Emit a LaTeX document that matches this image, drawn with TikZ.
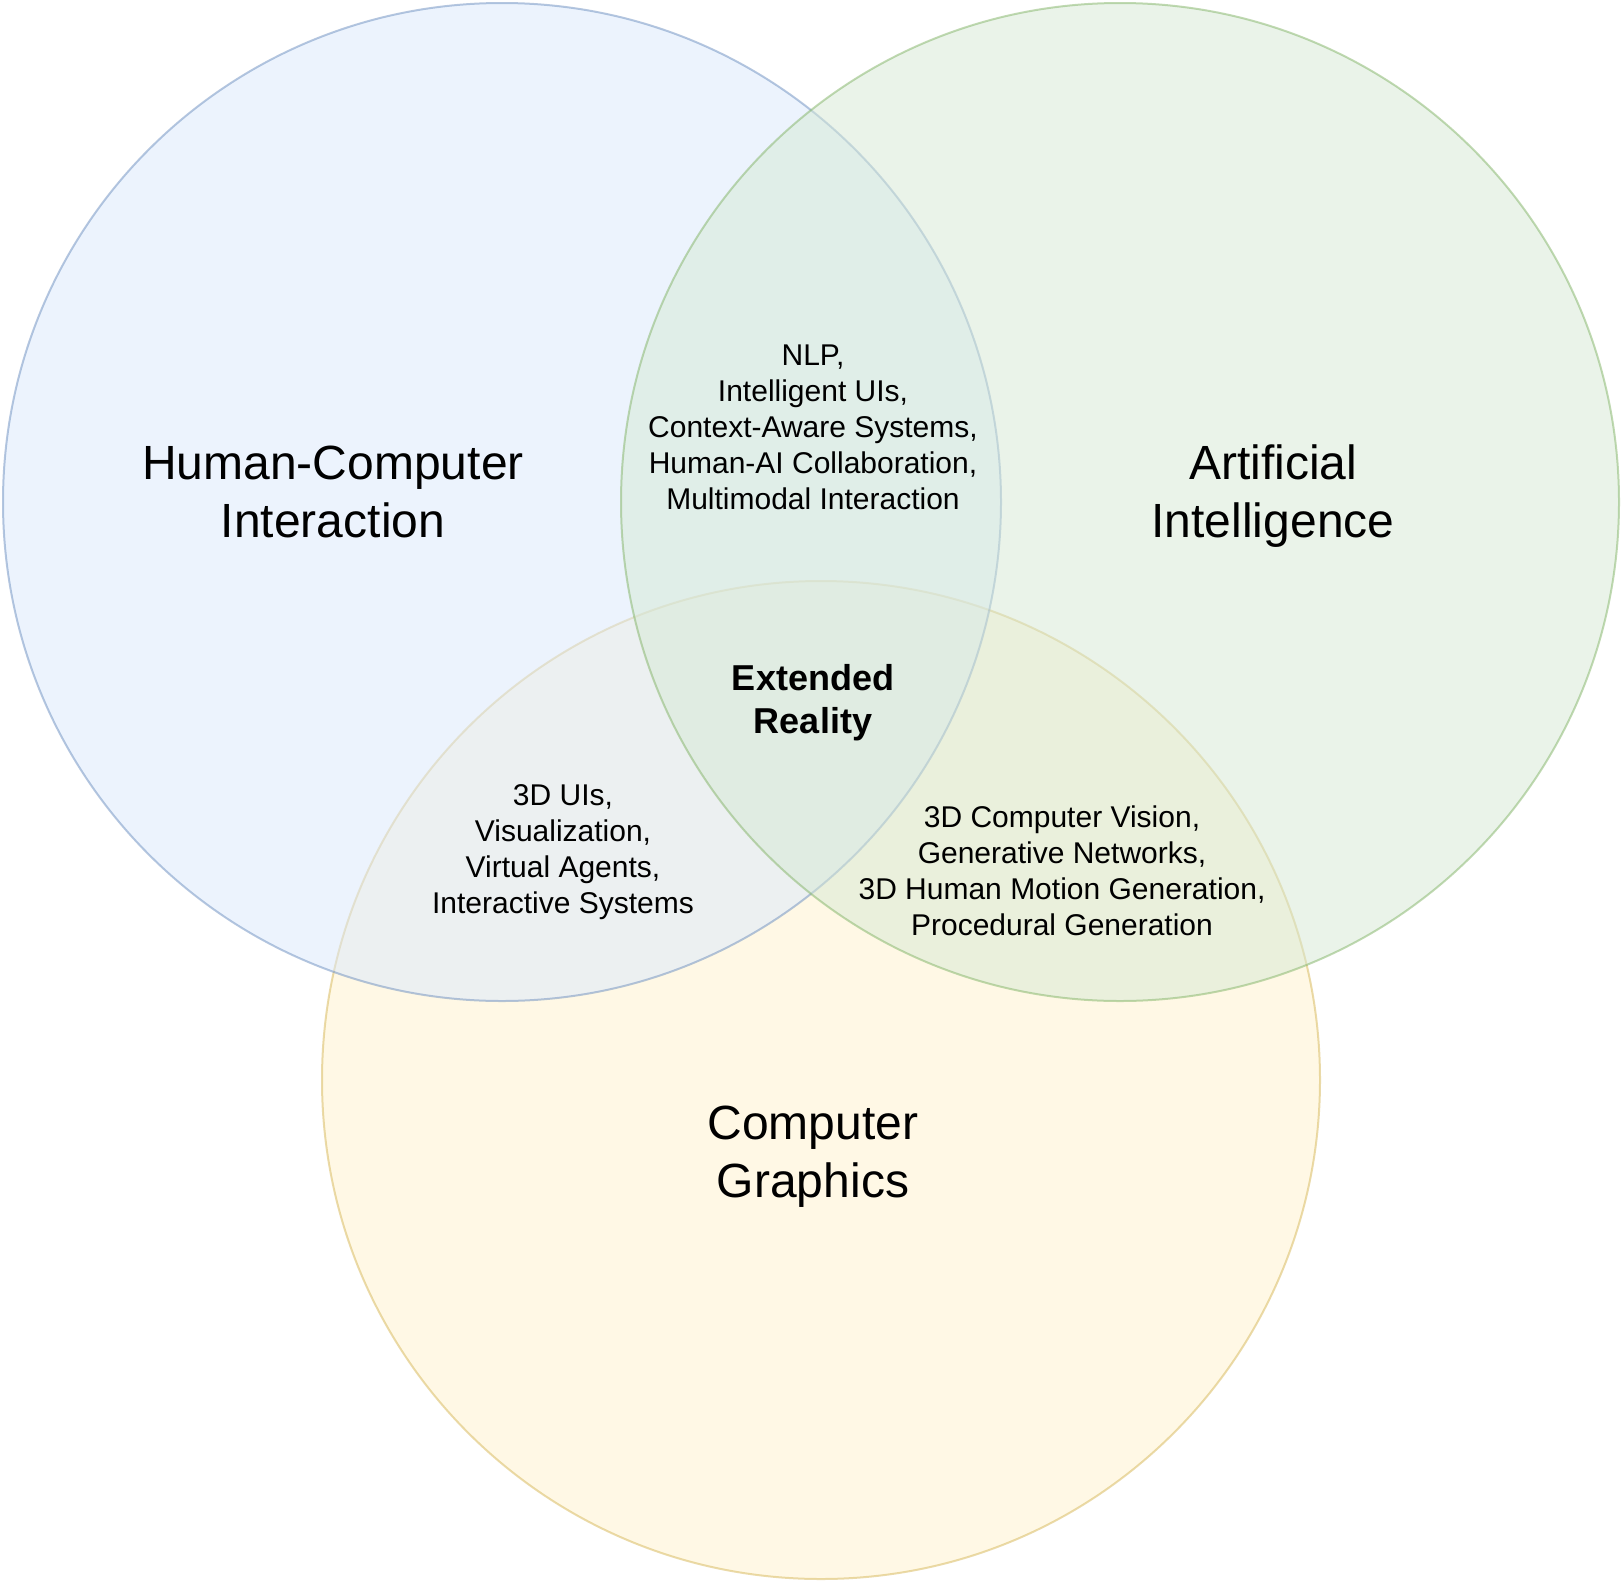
\documentclass[tikz,border=0pt]{standalone}
\usepackage{fontspec}
\setmainfont{Liberation Sans}
\usepackage{xcolor}
\usepackage{tikz}
\usetikzlibrary{positioning}
\definecolor{HciFill}{HTML}{DAE8FC}
\definecolor{HciLine}{HTML}{6C8EBF}
\definecolor{AiFill}{HTML}{D5E8D4}
\definecolor{AiLine}{HTML}{82B366}
\definecolor{CgFill}{HTML}{FFF2CC}
\definecolor{CgLine}{HTML}{D6B656}

\begin{document}
\begin{tikzpicture}[
    x=1pt, y=-1pt,
    field/.style={circle, minimum size=998pt, inner sep=0pt, line width=2pt,
                  fill opacity=0.5, draw opacity=0.5},
    hcifield/.style={field, fill=HciFill, draw=HciLine},
    aifield/.style={field, fill=AiFill, draw=AiLine},
    cgfield/.style={field, fill=CgFill, draw=CgLine},
    title/.style={align=center, text=black, font=\fontsize{48}{57.6}\selectfont},
    topic/.style={align=center, text=black, font=\fontsize{30}{36}\selectfont},
    core/.style={align=center, text=black, font=\fontsize{36}{43.2}\selectfont\bfseries}
]
\useasboundingbox (0,0) rectangle (1622,1582);

% --- the three fields (graphics lies underneath) ---
\node[cgfield] (cg) at (821, 1080) {};
\node[hcifield] (hci) at (502, 502) {};
\node[aifield] (ai) at (1120, 502) {};

% --- field names ---
\node[title] (hciname) at (333, 492) {Human-Computer\\Interaction};
\node[title] (ainame) at (1273, 496) {Artificial\\Intelligence};
\node[title] (cgname) at (813, 1157) {Computer\\Graphics};

% --- overlaps ---
\node[topic] (hciai) at (813, 427) {NLP,\\Intelligent UIs,\\Context-Aware Systems,\\Human-AI Collaboration,\\Multimodal Interaction};
\node[topic] (hcicg) at (563, 852) {3D UIs,\\Visualization,\\Virtual Agents,\\Interactive Systems};
\node[topic] (aicg) at (1062, 871) {3D Computer Vision,\\Generative Networks,\\3D Human Motion Generation,\\Procedural Generation};
\node[core] (xr) at (813, 703) {Extended\\Reality};
\end{tikzpicture}
\end{document}
